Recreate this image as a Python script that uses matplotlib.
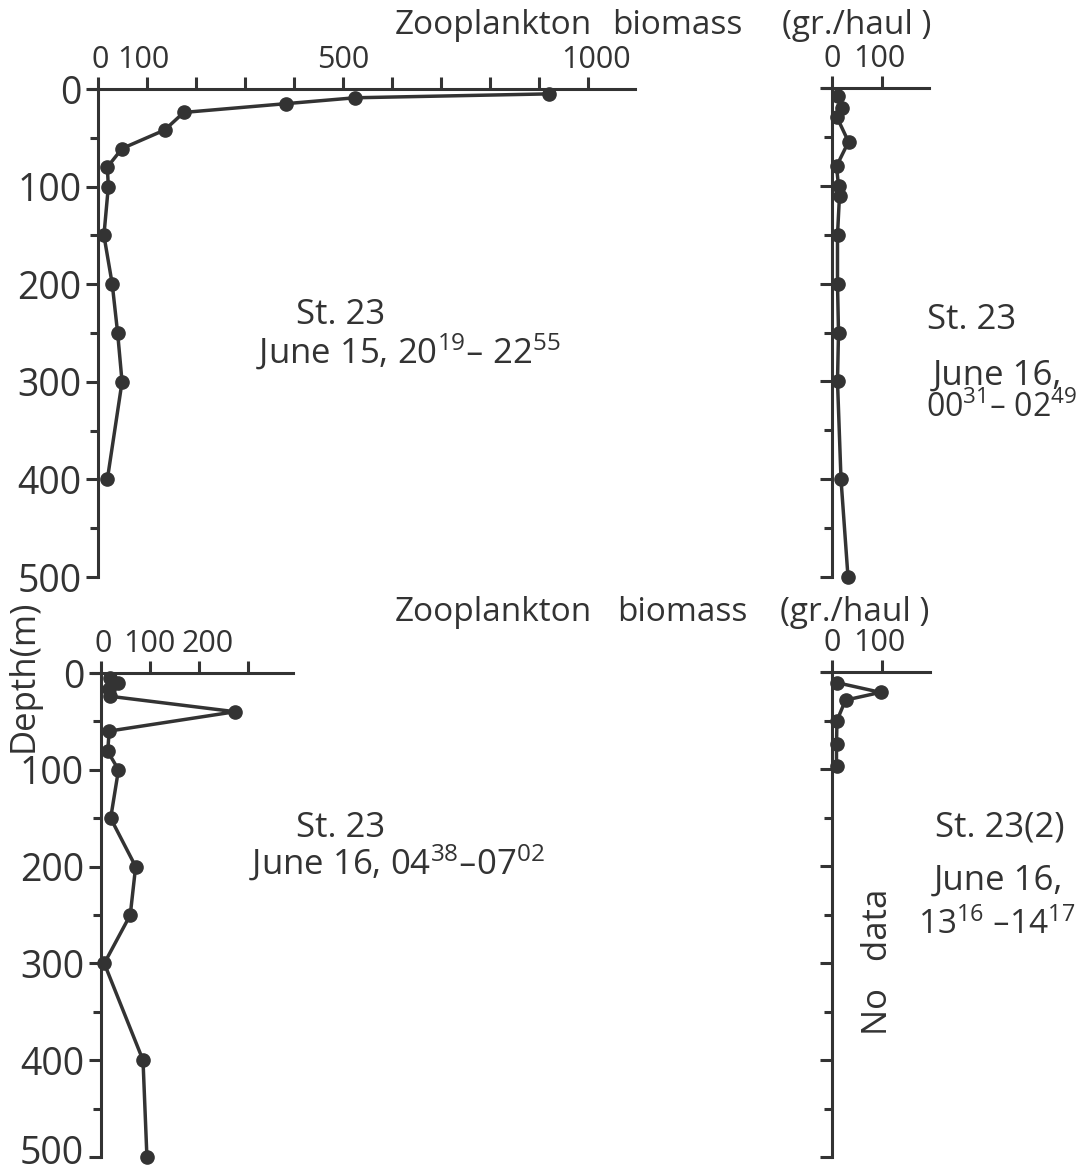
import matplotlib
matplotlib.use('Agg')
import matplotlib.pyplot as plt
from matplotlib.transforms import ScaledTranslation

plt.rcParams['font.family'] = ['Open Sans', 'DejaVu Sans']
plt.rcParams['mathtext.default'] = 'regular'

INK = '#333333'
W, H = 1084, 1174

# St. 23, June 15 (top left)
depth_a = [5, 9, 15, 24, 42, 61, 80, 100, 150, 200, 250, 300, 400]
biomass_a = [920, 524, 384, 175, 136, 49, 19, 21, 12, 29, 40, 49, 19]

# St. 23, June 16 00-02 (top right)
depth_b = [8, 20, 30, 55, 80, 100, 110, 150, 200, 250, 300, 400, 500]
biomass_b = [11, 19, 10, 33, 9, 13, 15, 11, 11, 13, 11, 18, 32]

# St. 23, June 16 04-07 (bottom left)
depth_c = [5, 10, 17, 24, 40, 60, 81, 100, 150, 200, 250, 300, 400, 500]
biomass_c = [18, 34, 17, 18, 274, 17, 14, 36, 20, 71, 60, 7, 86, 94]

# St. 23(2), June 16 13-14 (bottom right)
depth_d = [11, 21, 29, 50, 74, 97]
biomass_d = [10, 97, 27, 10, 9, 9]

depth_ticks = [0, 100, 200, 300, 400, 500]
depth_minor = [50, 150, 250, 350, 450]


def shift(lab, dx, dy=0):
    lab.set_transform(lab.get_transform() +
                      ScaledTranslation(dx / 100, dy / 100, fig.dpi_scale_trans))


def panel(x0, y0, x1, y1, xmin, xmax, xticks, xlabels, ylabels, shifts):
    ax = fig.add_axes([x0 / W, 1 - y1 / H, (x1 - x0) / W, (y1 - y0) / H])
    ax.set_xlim(xmin, xmax)
    ax.set_ylim(500, 0)
    for s in ['right', 'bottom']:
        ax.spines[s].set_visible(False)
    ax.spines['left'].set_position(('data', 0))
    for s in ['left', 'top']:
        ax.spines[s].set_linewidth(2.2)
        ax.spines[s].set_color(INK)
    ax.xaxis.tick_top()
    ax.set_xticks(xticks)
    ax.set_xticklabels(xlabels)
    ax.set_yticks(depth_ticks)
    ax.set_yticks(depth_minor, minor=True)
    if ylabels:
        ax.set_yticklabels([str(t) for t in depth_ticks])
    else:
        ax.set_yticklabels([])
    ax.tick_params(axis='both', which='major', direction='out', length=9,
                   width=2.2, color=INK, labelcolor=INK)
    ax.tick_params(axis='x', labelsize=22, pad=1)
    ax.tick_params(axis='y', labelsize=27, pad=3)
    ax.tick_params(axis='y', which='minor', direction='out', length=6,
                   width=2.2, color=INK)
    # nudge the crowded top labels like in the drawing
    for lab, dx in zip(ax.get_xticklabels(), shifts):
        shift(lab, dx)
    ax.patch.set_visible(False)
    return ax


def profile(ax, x, y):
    ax.plot(x, y, color=INK, lw=2.5, marker='o', ms=9.5, clip_on=False)


fig = plt.figure(figsize=(W / 100, H / 100), dpi=100)

ax_a = panel(90.2, 89, 634.6, 577, -16, 1095, list(range(0, 1001, 100)),
             ['0', '100', '', '', '', '500', '', '', '', '', '1000'], True,
             [2, -4, 0, 0, 0, 0, 0, 0, 0, 0, 8])
profile(ax_a, biomass_a, depth_a)

ax_b = panel(823, 88, 928.5, 577, -18, 193, [0, 100], ['0', '100'], False,
             [0, -3])
profile(ax_b, biomass_b, depth_b)

ax_c = panel(93, 673, 293, 1157, -16, 392, [0, 100, 200, 300],
             ['0', '100', '200', ''], True, [2, -1, 9, 0])
profile(ax_c, biomass_c, depth_c)
shift(ax_c.get_yticklabels()[-1], 0, 8)  # keep the bottom "500" inside

ax_d = panel(823, 672, 930, 1157, -18, 196, [0, 100], ['0', '100'], False,
             [0, -3])
profile(ax_d, biomass_d, depth_d)


def label(x, y, s, size=25, **kw):
    fig.text(x / W, 1 - y / H, s, fontsize=size, color=INK,
             ha=kw.pop('ha', 'center'), va=kw.pop('va', 'center'), **kw)


# axis titles
for yy, xs in [(34, (395, 612, 782)), (621, (395, 617, 780))]:
    label(xs[0], yy, 'Zooplankton', size=24, ha='left', va='baseline')
    label(xs[1], yy, 'biomass', size=24, ha='left', va='baseline')
    label(xs[2], yy, '(gr./haul )', size=24, ha='left', va='baseline')
label(24, 676, 'Depth(m)', size=25, rotation=90)

# station notes
label(341, 315, 'St. 23')
label(408, 352, 'June 15, 20$^{19}$– 22$^{55}$')
label(972, 320, 'St. 23')
label(997, 376, 'June 16,')
label(1002, 408, '00$^{31}$– 02$^{49}$', size=23)
label(341, 828, 'St. 23')
label(397, 863, 'June 16, 04$^{38}$–07$^{02}$')
label(1000, 828, 'St. 23(2)')
label(998, 881, 'June 16,')
label(997, 925, '13$^{16}$ –14$^{17}$', size=24)
label(878, 962, 'No   data', rotation=90)

fig.savefig('out.png', dpi=100, facecolor='white')
